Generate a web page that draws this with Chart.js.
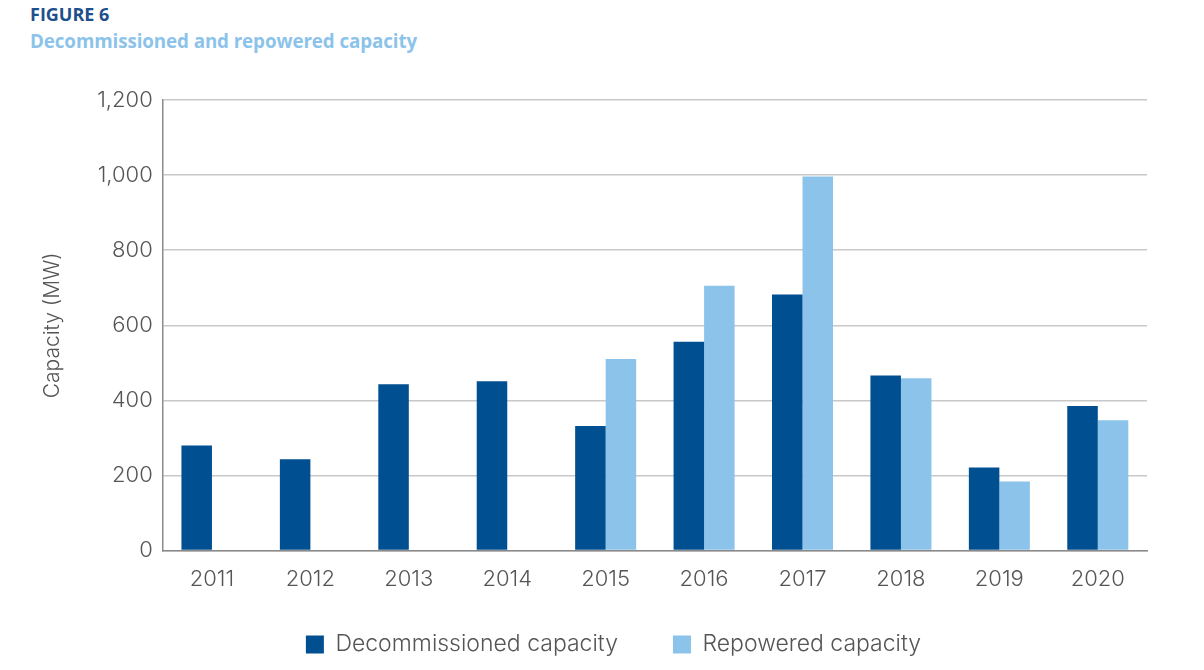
<!DOCTYPE html>
<html>
<head>
<meta charset="utf-8">
<script src="https://cdn.jsdelivr.net/npm/chart.js@4.4.1/dist/chart.umd.min.js"></script>
<style>
  html, body { margin: 0; padding: 0; background: #ffffff; }
  #wrap { position: relative; width: 1204px; height: 670px; overflow: hidden; }
  #fig { position: absolute; left: 30px; top: 2px; font-family: "Open Sans", sans-serif; font-weight: 700; font-size: 18px; color: #1d4f8c; }
  #sub { position: absolute; left: 30px; top: 28px; font-family: "Open Sans", sans-serif; font-weight: 700; font-size: 18.8px; color: #8cc3ea; letter-spacing: -0.1px; }
  #c { position: absolute; left: 0; top: 0; }
</style>
</head>
<body>
<div id="wrap">
  <div id="fig">FIGURE 6</div>
  <div id="sub">Decommissioned and repowered capacity</div>
  <canvas id="c" width="1204" height="670"></canvas>
</div>
<script>
const categories = ["2011", "2012", "2013", "2014", "2015", "2016", "2017", "2018", "2019", "2020"];
const decommissioned = [280, 243, 443, 451, 332, 556, 682, 466, 221, 385];
const repowered = [null, null, null, null, 510, 705, 996, 459, 184, 347];
const seriesNames = ["Decommissioned capacity", "Repowered capacity"];
const yTicks = [0, 200, 400, 600, 800, 1000, 1200];

const tickFont = { family: "Inter, sans-serif", size: 22, weight: 300 };
const legendFont = { family: "Inter, sans-serif", size: 23, weight: 300 };
const titleFont = { family: "Inter, sans-serif", size: 21, weight: 300 };

// keep legend at its place while letting the plot reach further down
const legendShift = {
  id: "legendShift",
  afterLayout(chart) {
    const lg = chart.legend;
    const target = 633; // top of legend items
    const pad = chart.options.plugins.legend.labels.padding;
    const dy = target - (lg.top + pad);
    lg.top += dy; lg.bottom += dy;
    lg.left += 22; lg.right += 22;
  }
};

new Chart(document.getElementById("c"), {
  type: "bar",
  data: {
    labels: categories,
    datasets: [
      { label: seriesNames[0], data: decommissioned, backgroundColor: "#004f91", borderWidth: 0 },
      { label: seriesNames[1], data: repowered, backgroundColor: "#8cc3ea", borderWidth: 0 }
    ]
  },
  options: {
    responsive: false,
    animation: false,
    devicePixelRatio: 1,
    layout: { padding: { top: 100, left: 36, right: 57, bottom: -27 } },
    datasets: { bar: { categoryPercentage: 0.62, barPercentage: 1.0 } },
    plugins: {
      tooltip: { enabled: false },
      legend: {
        position: "bottom",
        labels: {
          font: legendFont, color: "#555555", boxWidth: 18, boxHeight: 18,
          padding: 55, useBorderRadius: false
        }
      }
    },
    scales: {
      x: {
        grid: { display: false, drawTicks: false },
        border: { display: true, color: "#8a8a8a", width: 1.5 },
        ticks: { font: tickFont, color: "#555555", padding: 16, maxRotation: 0 }
      },
      y: {
        min: 0, max: 1200,
        afterBuildTicks: (axis) => { axis.ticks = yTicks.map(v => ({ value: v })); },
        grid: { color: "#c8c8c8", lineWidth: 1.5, drawTicks: false },
        border: { display: true, color: "#8a8a8a", width: 1.5 },
        ticks: {
          font: tickFont, color: "#555555", padding: 10,
          callback: (v) => v.toLocaleString("en-US")
        },
        title: { display: true, text: "Capacity (MW)", font: titleFont, color: "#555555", padding: { bottom: 22 } }
      }
    }
  },
  plugins: [legendShift]
});
</script>
</body>
</html>
